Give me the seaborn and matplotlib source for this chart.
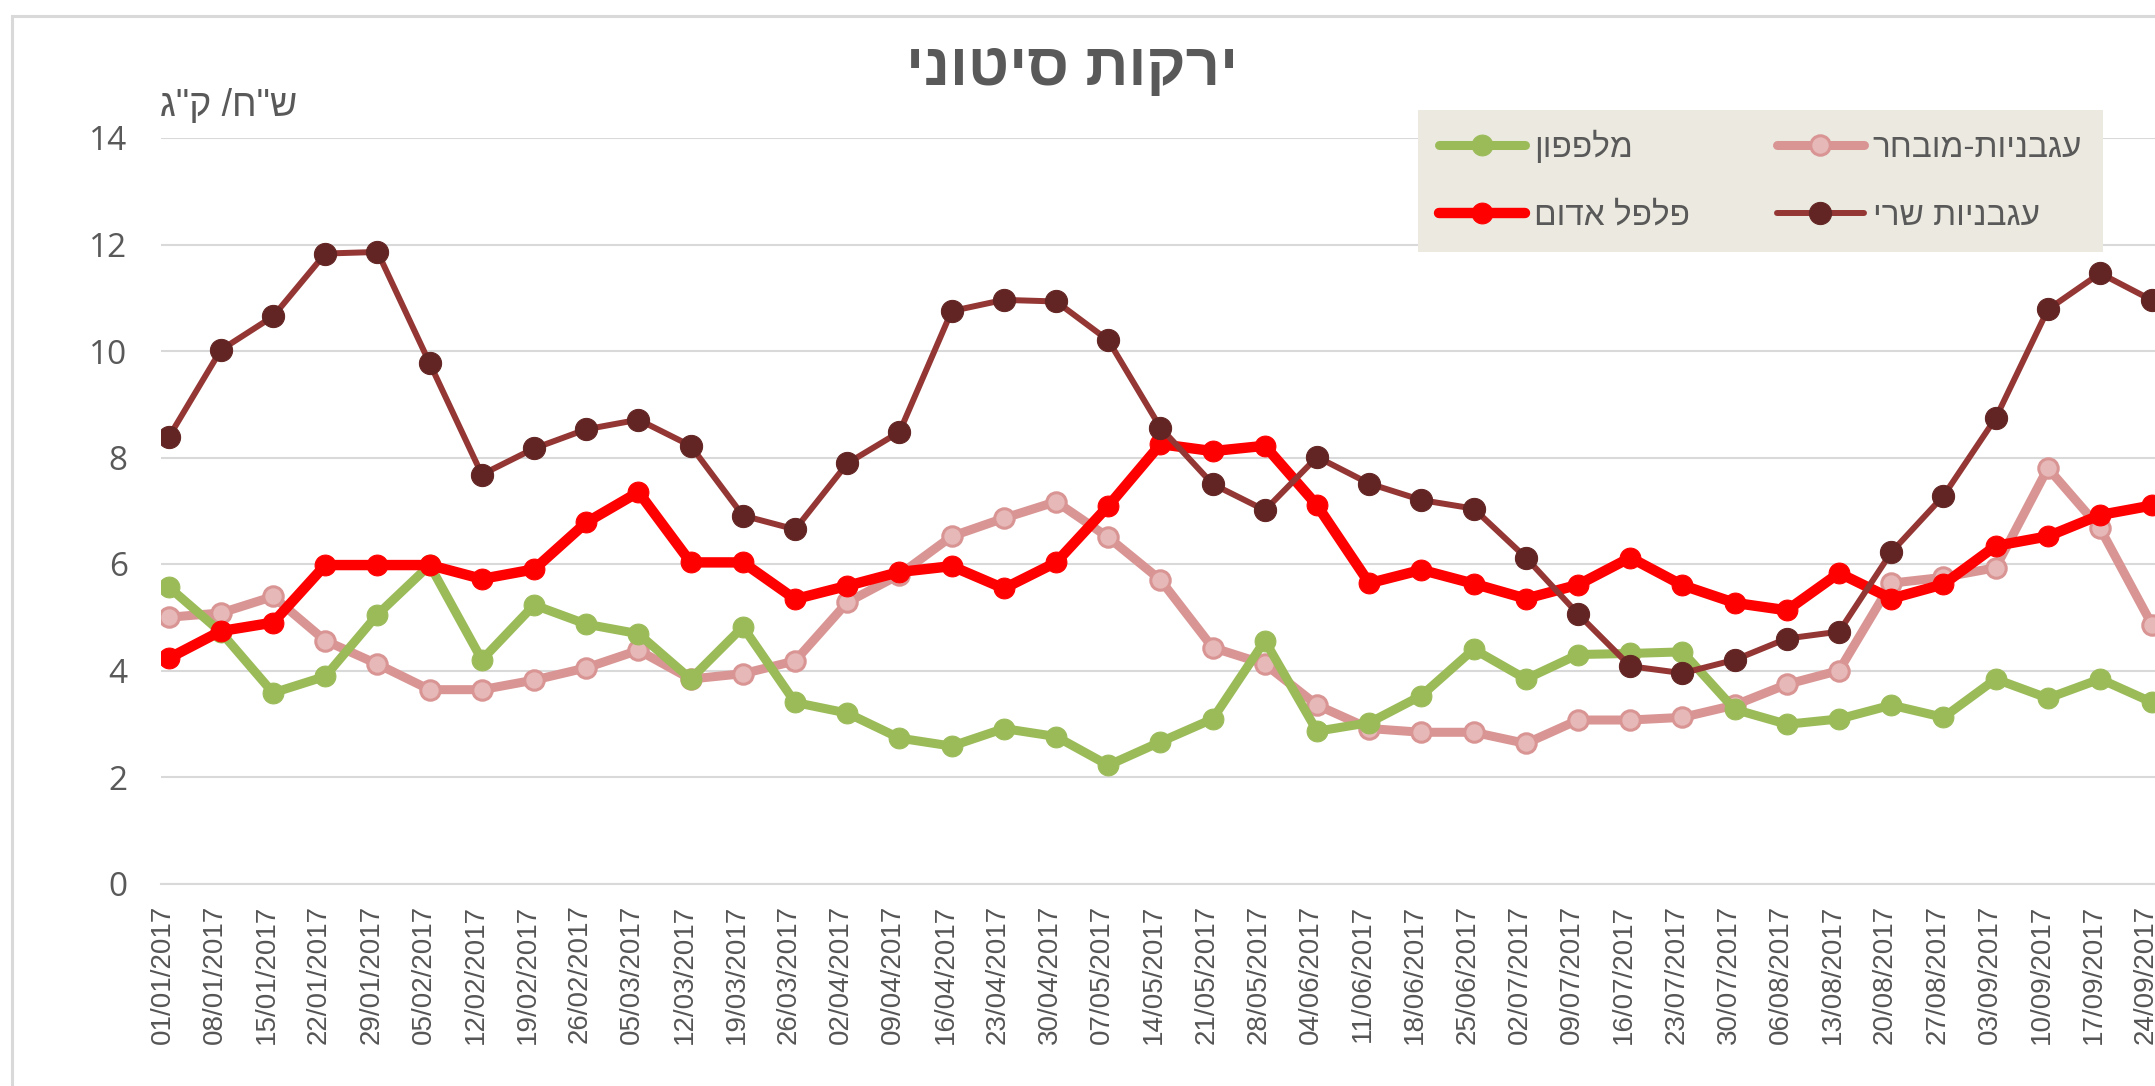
import numpy as np
import matplotlib
matplotlib.use('Agg')
import matplotlib.pyplot as plt
import seaborn as sns

# weekly dates on the x axis
dates = ['01/01/2017', '08/01/2017', '15/01/2017', '22/01/2017', '29/01/2017',
         '05/02/2017', '12/02/2017', '19/02/2017', '26/02/2017', '05/03/2017',
         '12/03/2017', '19/03/2017', '26/03/2017', '02/04/2017', '09/04/2017',
         '16/04/2017', '23/04/2017', '30/04/2017', '07/05/2017', '14/05/2017',
         '21/05/2017', '28/05/2017', '04/06/2017', '11/06/2017', '18/06/2017',
         '25/06/2017', '02/07/2017', '09/07/2017', '16/07/2017', '23/07/2017',
         '30/07/2017', '06/08/2017', '13/08/2017', '20/08/2017', '27/08/2017',
         '03/09/2017', '10/09/2017', '17/09/2017', '24/09/2017']

# prices (NIS / kg)
cucumber = [5.57, 4.72, 3.58, 3.89, 5.05, 5.98, 4.2, 5.23, 4.87, 4.69,
            3.84, 4.82, 3.4, 3.2, 2.73, 2.58, 2.91, 2.76, 2.22, 2.66,
            3.09, 4.56, 2.86, 3.02, 3.53, 4.4, 3.84, 4.3, 4.32, 4.35,
            3.27, 2.99, 3.09, 3.35, 3.12, 3.84, 3.48, 3.84, 3.4]
red_pepper = [4.23, 4.74, 4.9, 5.98, 5.98, 5.98, 5.72, 5.9, 6.78, 7.35,
              6.03, 6.03, 5.34, 5.59, 5.85, 5.96, 5.54, 6.03, 7.09, 8.25,
              8.12, 8.22, 7.1, 5.64, 5.89, 5.63, 5.35, 5.61, 6.12, 5.6,
              5.27, 5.13, 5.83, 5.35, 5.62, 6.34, 6.52, 6.92, 7.1]
tomato_premium = [5.0, 5.08, 5.39, 4.56, 4.12, 3.64, 3.64, 3.82, 4.05, 4.38,
                  3.84, 3.94, 4.18, 5.28, 5.8, 6.52, 6.86, 7.17, 6.5, 5.7,
                  4.43, 4.12, 3.35, 2.91, 2.84, 2.84, 2.63, 3.07, 3.07, 3.12,
                  3.35, 3.74, 4.0, 5.64, 5.75, 5.93, 7.8, 6.67, 4.85]
tomato_cherry = [8.38, 10.02, 10.65, 11.83, 11.86, 9.77, 7.68, 8.17, 8.53, 8.71,
                 8.22, 6.91, 6.65, 7.89, 8.48, 10.75, 10.96, 10.93, 10.2, 8.56,
                 7.5, 7.01, 8.01, 7.51, 7.2, 7.04, 6.12, 5.06, 4.08, 3.95,
                 4.2, 4.6, 4.73, 6.22, 7.28, 8.74, 10.78, 11.46, 10.95]

title = 'ירקות סיטוני'
unit = 'ש"ח/ ק"ג'
names = ['מלפפון', 'פלפל אדום', 'עגבניות-מובחר', 'עגבניות שרי']


def rtl(s):
    # matplotlib has no bidi support, so hebrew strings are reversed by hand
    return s[::-1]


sns.set_style('white')
plt.rcParams['font.family'] = ['Liberation Sans', 'DejaVu Sans']

W, H = 2155, 1086
fig = plt.figure(figsize=(W / 100, H / 100), dpi=100)
# plot area runs past the right edge, as in the cropped original
ax = fig.add_axes([161 / W, 1 - 883.5 / H, (2200 - 161) / W, (883.5 - 138) / H])

x = np.arange(len(dates))
grey = '#595959'

sns.lineplot(x=x, y=tomato_premium, ax=ax, color='#D99594', lw=6.5, marker='o',
             markersize=14, markerfacecolor='#E6B9B8', markeredgecolor='#D99594',
             markeredgewidth=2.2, label=rtl(names[2]), zorder=3)
sns.lineplot(x=x, y=cucumber, ax=ax, color='#9BBB59', lw=6.5, marker='o',
             markersize=15, markerfacecolor='#9BBB59', markeredgecolor='#9BBB59',
             label=rtl(names[0]), zorder=4)
sns.lineplot(x=x, y=red_pepper, ax=ax, color='#FF0000', lw=7.5, marker='o',
             markersize=15, markerfacecolor='#FF0000', markeredgecolor='#FF0000',
             label=rtl(names[1]), zorder=5)
sns.lineplot(x=x, y=tomato_cherry, ax=ax, color='#943634', lw=4.3, marker='o',
             markersize=16, markerfacecolor='#632523', markeredgecolor='#632523',
             label=rtl(names[3]), zorder=6)

ax.set_xlim(-0.1475, -0.1475 + 2039 / 52.2)
ax.set_ylim(0, 14)
ax.set_yticks(range(0, 15, 2))
ax.set_xticks(x - 0.12)
ax.set_xticklabels(dates, rotation=90, fontsize=20, color='#555555')
ax.tick_params(axis='x', length=7.2, width=1.5, color='#D9D9D9', pad=8)
ax.tick_params(axis='y', length=0, pad=24, labelsize=24, labelcolor=grey)
for lab in ax.get_yticklabels():
    lab.set_family(['Open Sans', 'DejaVu Sans'])
ax.set_xlabel('')
ax.set_ylabel('')
ax.grid(axis='y', color='#D9D9D9', lw=1.5)
ax.grid(axis='x', visible=False)
for s in ['top', 'left', 'right']:
    ax.spines[s].set_visible(False)
ax.spines['bottom'].set_color('#D9D9D9')
ax.spines['bottom'].set_linewidth(1.5)

# chart border
fig.add_artist(plt.Rectangle((12 / W, -0.1), 1.2, 1.1 - 16 / H, transform=fig.transFigure,
                             fill=False, ec='#D9D9D9', lw=2.2))

fig.text(1072 / W, 1 - 69 / H, rtl(title), ha='center', va='center', fontsize=43,
         fontweight='bold', color=grey)
fig.text(160 / W, 1 - 106 / H, rtl(unit), ha='left', va='center', fontsize=27, color=grey)

handles, labels = ax.get_legend_handles_labels()
order = [1, 2, 0, 3]
leg = ax.legend([handles[i] for i in order], [labels[i] for i in order], ncol=2,
                loc='upper left', bbox_to_anchor=(1418 / W, 1 - 110 / H),
                bbox_transform=fig.transFigure, frameon=True, facecolor='#ECEAE0',
                edgecolor='none', fancybox=False, framealpha=1, fontsize=24,
                handlelength=2.6, handletextpad=0.27, columnspacing=2.6,
                labelspacing=1.1, borderpad=0.62, borderaxespad=0)
for t in leg.get_texts():
    t.set_color(grey)

fig.savefig('out.png', dpi=100)
